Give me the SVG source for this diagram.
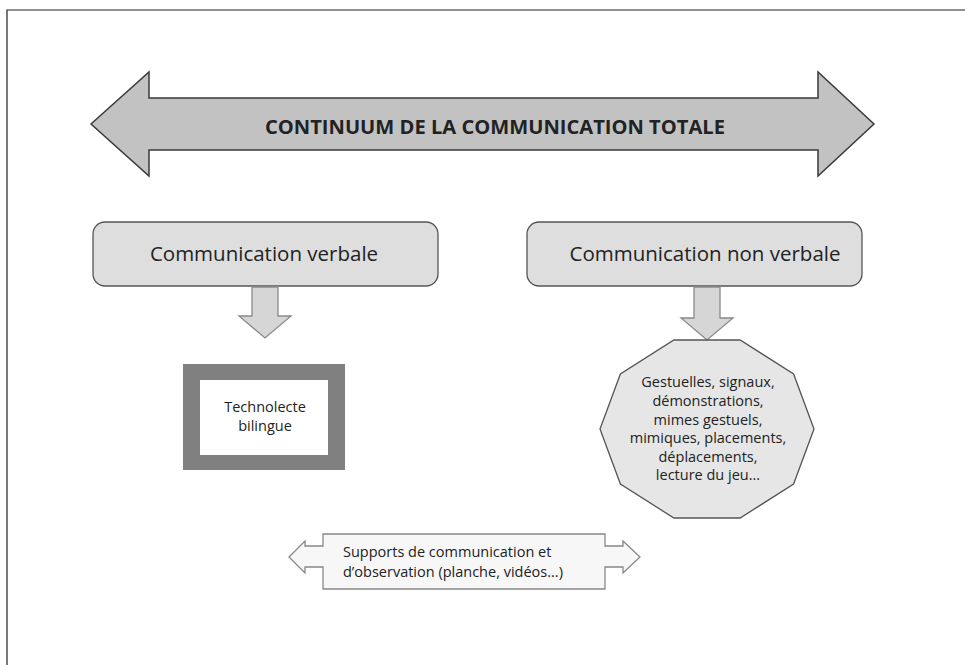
<svg xmlns="http://www.w3.org/2000/svg" width="965" height="665" viewBox="0 0 965 665">
<style>
text{font-family:"Open Sans","Liberation Sans",sans-serif;fill:#222}
.big{fill:#c2c2c2;stroke:#3a3a3a;stroke-width:1.5}
.box{fill:#dedede;stroke:#555;stroke-width:1.3}
.darr{fill:#d6d6d6;stroke:#8a8a8a;stroke-width:1.3}
.t21{font-size:20.5px}
.t14{font-size:14.5px}
</style>
<rect width="965" height="665" fill="#fff"/>
<path d="M7 665 V10 H965" fill="none" stroke="#222" stroke-width="1.2"/>
<g id="continuum">
<polygon class="big" points="91,124 149,72 149,98 818,98 818,72 874,124 818,176 818,150 149,150 149,176"/>
<text x="495" y="134" text-anchor="middle" font-weight="bold" font-size="19" textLength="460" lengthAdjust="spacingAndGlyphs">CONTINUUM DE LA COMMUNICATION TOTALE</text>
</g>
<g id="verbale">
<rect class="box" x="93" y="222" width="345" height="64" rx="12"/>
<text class="t21" x="264" y="261" text-anchor="middle">Communication verbale</text>
</g>
<g id="nonverbale">
<rect class="box" x="527" y="222" width="335" height="64" rx="12"/>
<text class="t21" x="705" y="261" text-anchor="middle">Communication non verbale</text>
</g>
<g id="connectors">
<polygon class="darr" points="252,287 278,287 278,316 291,316 265,338 239,316 252,316"/>
<polygon class="darr" points="694,287 720,287 720,318 733,318 707,340 681,318 694,318"/>
</g>
<g id="technolecte">
<rect x="183" y="364" width="162" height="106" fill="#808080"/>
<rect x="200" y="380" width="128" height="75" fill="#fff"/>
<text class="t14" x="265" y="412" text-anchor="middle">Technolecte</text>
<text class="t14" x="265" y="431" text-anchor="middle">bilingue</text>
</g>
<g id="gestuelles">
<polygon fill="#e6e6e6" stroke="#555" stroke-width="1.3" points="814,429 793.6,373.9 740.1,340 673.9,340 620.4,373.9 600,429 620.4,484.1 673.9,518 740.1,518 793.6,484.1"/>
<g text-anchor="middle" class="t14">
<text x="708" y="387">Gestuelles, signaux,</text>
<text x="708" y="406">démonstrations,</text>
<text x="708" y="425">mimes gestuels,</text>
<text x="708" y="443">mimiques, placements,</text>
<text x="708" y="462">déplacements,</text>
<text x="708" y="480">lecture du jeu...</text>
</g>
</g>
<g id="supports">
<polygon fill="#f7f7f7" stroke="#888" stroke-width="1.3" points="323,534 605,534 605,546 623,546 623,541 640,557 623,573 623,567 605,567 605,589 323,589 323,567 305,567 305,573 289,557 305,541 305,546 323,546"/>
<text class="t14" x="343" y="557">Supports de communication et</text>
<text class="t14" x="343" y="577">d’observation (planche, vidéos...)</text>
</g>
</svg>
